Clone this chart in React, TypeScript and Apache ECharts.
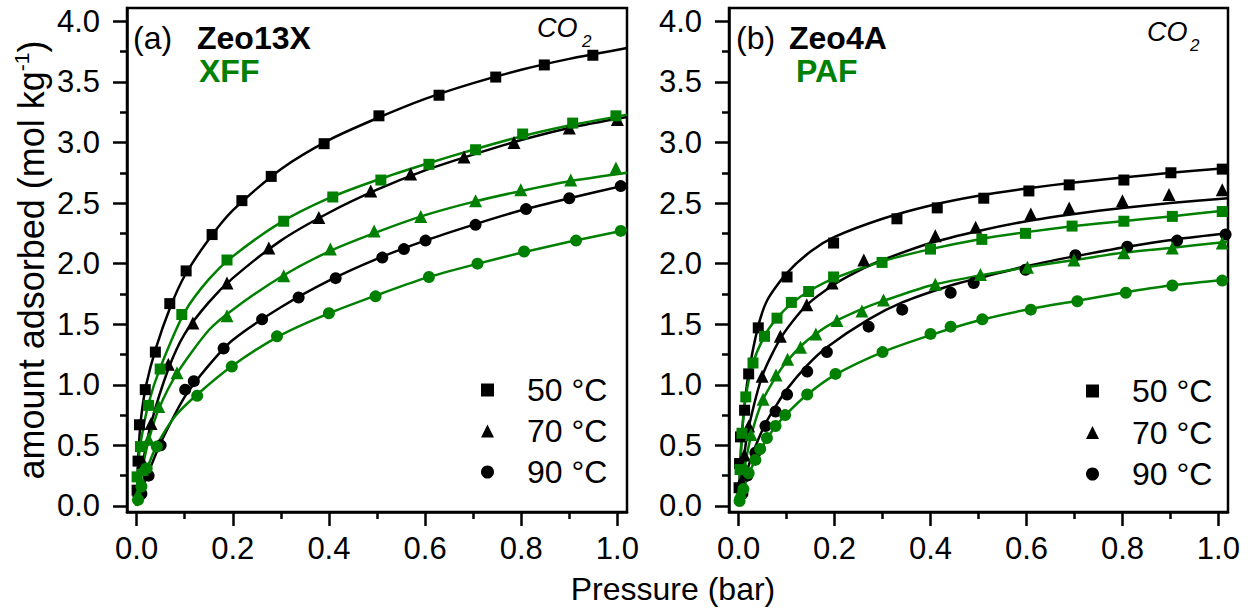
import React, { useEffect, useRef } from "react";
import * as echarts from "echarts";

// ---- tick values ----
const X_MAJOR = [0, 0.2, 0.4, 0.6, 0.8, 1.0];
const X_MINOR = [0.1, 0.3, 0.5, 0.7, 0.9];
const Y_MAJOR = [0, 0.5, 1.0, 1.5, 2.0, 2.5, 3.0, 3.5, 4.0];
const Y_MINOR = [0.25, 0.75, 1.25, 1.75, 2.25, 2.75, 3.25, 3.75];
const TEMPS = ["50 °C", "70 °C", "90 °C"];

// ---- panel (a): Zeo13X (black) / XFF (green) : [pressure bar, mol/kg] ----
const zeo13x50 = [[0.001, 0.13], [0.003, 0.37], [0.006, 0.67], [0.018, 0.96], [0.039, 1.27], [0.069, 1.67], [0.103, 1.94], [0.157, 2.24], [0.219, 2.52], [0.28, 2.72], [0.39, 2.99], [0.504, 3.22], [0.629, 3.39], [0.747, 3.54], [0.848, 3.64], [0.949, 3.72]];
const zeo13x70 = [[0.004, 0.13], [0.013, 0.36], [0.03, 0.68], [0.066, 1.17], [0.117, 1.51], [0.188, 1.84], [0.275, 2.13], [0.379, 2.38], [0.487, 2.6], [0.57, 2.74], [0.681, 2.88], [0.785, 3.0], [0.9, 3.12], [1.0, 3.19]];
const zeo13x90 = [[0.01, 0.1], [0.025, 0.25], [0.05, 0.5], [0.101, 0.96], [0.119, 1.03], [0.181, 1.3], [0.261, 1.54], [0.337, 1.72], [0.414, 1.88], [0.511, 2.05], [0.556, 2.12], [0.601, 2.19], [0.705, 2.32], [0.81, 2.45], [0.9, 2.54], [1.007, 2.64]];
const xff50 = [[0.001, 0.24], [0.008, 0.49], [0.025, 0.83], [0.049, 1.13], [0.094, 1.58], [0.188, 2.03], [0.306, 2.35], [0.408, 2.55], [0.508, 2.69], [0.608, 2.82], [0.705, 2.94], [0.803, 3.07], [0.907, 3.16], [0.997, 3.22]];
const xff70 = [[0.003, 0.1], [0.012, 0.3], [0.025, 0.55], [0.046, 0.82], [0.084, 1.1], [0.188, 1.57], [0.306, 1.9], [0.403, 2.12], [0.494, 2.27], [0.591, 2.39], [0.705, 2.52], [0.799, 2.61], [0.903, 2.69], [0.997, 2.79]];
const xff90 = [[0.003, 0.05], [0.01, 0.16], [0.021, 0.31], [0.042, 0.49], [0.126, 0.91], [0.198, 1.15], [0.292, 1.4], [0.4, 1.59], [0.497, 1.73], [0.608, 1.89], [0.709, 2.0], [0.806, 2.1], [0.914, 2.19], [1.007, 2.27]];

// fitted curves, panel (a)
const fitZeo13x50 = [[0, 0], [0.002, 0.25], [0.005, 0.52], [0.01, 0.75], [0.02, 1.0], [0.04, 1.3], [0.07, 1.64], [0.1, 1.9], [0.15, 2.2], [0.2, 2.44], [0.3, 2.78], [0.4, 3.02], [0.5, 3.2], [0.6, 3.36], [0.7, 3.49], [0.8, 3.6], [0.9, 3.69], [1.02, 3.78]];
const fitZeo13x70 = [[0, 0], [0.005, 0.16], [0.013, 0.36], [0.03, 0.68], [0.066, 1.13], [0.1, 1.42], [0.15, 1.68], [0.2, 1.88], [0.3, 2.19], [0.4, 2.42], [0.5, 2.61], [0.6, 2.77], [0.7, 2.9], [0.8, 3.02], [0.9, 3.12], [1.02, 3.21]];
const fitZeo13x90 = [[0, 0], [0.01, 0.12], [0.025, 0.28], [0.05, 0.52], [0.1, 0.9], [0.15, 1.16], [0.2, 1.37], [0.3, 1.64], [0.4, 1.86], [0.5, 2.04], [0.6, 2.19], [0.7, 2.32], [0.8, 2.44], [0.9, 2.54], [1.02, 2.65]];
const fitXff50 = [[0, 0], [0.001, 0.15], [0.004, 0.38], [0.01, 0.56], [0.025, 0.85], [0.05, 1.15], [0.1, 1.6], [0.15, 1.87], [0.2, 2.06], [0.3, 2.34], [0.4, 2.54], [0.5, 2.69], [0.6, 2.82], [0.7, 2.94], [0.8, 3.05], [0.9, 3.14], [1.02, 3.23]];
const fitXff70 = [[0, 0], [0.003, 0.1], [0.012, 0.31], [0.025, 0.54], [0.046, 0.8], [0.085, 1.1], [0.15, 1.45], [0.2, 1.62], [0.3, 1.89], [0.4, 2.1], [0.5, 2.26], [0.6, 2.4], [0.7, 2.51], [0.8, 2.6], [0.9, 2.68], [1.02, 2.75]];
const fitXff90 = [[0, 0], [0.003, 0.05], [0.01, 0.16], [0.021, 0.3], [0.042, 0.5], [0.08, 0.74], [0.126, 0.92], [0.2, 1.16], [0.3, 1.41], [0.4, 1.59], [0.5, 1.74], [0.6, 1.88], [0.7, 1.99], [0.8, 2.09], [0.9, 2.18], [1.02, 2.28]];

// ---- panel (b): Zeo4A (black) / PAF (green) ----
const zeo4a50 = [[0.001, 0.15], [0.002, 0.35], [0.004, 0.57], [0.0125, 0.79], [0.021, 1.09], [0.041, 1.47], [0.101, 1.89], [0.198, 2.17], [0.33, 2.37], [0.414, 2.46], [0.511, 2.54], [0.605, 2.6], [0.689, 2.65], [0.803, 2.69], [0.901, 2.75], [1.008, 2.78]];
const zeo4a70 = [[0.005, 0.2], [0.012, 0.42], [0.021, 0.66], [0.049, 1.07], [0.087, 1.4], [0.142, 1.66], [0.195, 1.84], [0.261, 2.03], [0.41, 2.23], [0.494, 2.3], [0.609, 2.41], [0.689, 2.46], [0.8, 2.52], [0.897, 2.57], [1.008, 2.61]];
const zeo4a90 = [[0.008, 0.1], [0.018, 0.25], [0.035, 0.44], [0.056, 0.66], [0.077, 0.78], [0.101, 0.92], [0.143, 1.11], [0.184, 1.27], [0.271, 1.48], [0.341, 1.62], [0.442, 1.76], [0.49, 1.84], [0.598, 1.95], [0.702, 2.07], [0.81, 2.14], [0.914, 2.19], [1.015, 2.24]];
const paf50 = [[0.003, 0.3], [0.007, 0.6], [0.015, 0.9], [0.03, 1.18], [0.054, 1.4], [0.08, 1.55], [0.11, 1.68], [0.146, 1.77], [0.198, 1.89], [0.299, 2.01], [0.4, 2.12], [0.507, 2.2], [0.598, 2.25], [0.695, 2.31], [0.803, 2.35], [0.904, 2.39], [1.008, 2.43]];
const paf70 = [[0.004, 0.12], [0.013, 0.32], [0.026, 0.59], [0.051, 0.88], [0.078, 1.08], [0.102, 1.21], [0.129, 1.31], [0.161, 1.42], [0.205, 1.53], [0.257, 1.61], [0.302, 1.7], [0.41, 1.83], [0.504, 1.91], [0.602, 1.97], [0.699, 2.03], [0.803, 2.09], [0.904, 2.13], [1.008, 2.17]];
const paf90 = [[0.002, 0.04], [0.01, 0.14], [0.021, 0.27], [0.035, 0.38], [0.045, 0.47], [0.059, 0.56], [0.077, 0.66], [0.097, 0.75], [0.143, 0.92], [0.202, 1.09], [0.3, 1.27], [0.4, 1.42], [0.442, 1.48], [0.508, 1.54], [0.609, 1.62], [0.706, 1.69], [0.807, 1.76], [0.904, 1.82], [1.008, 1.86]];

// fitted curves, panel (b)
const fitZeo4a50 = [[0, 0], [0.002, 0.2], [0.005, 0.46], [0.01, 0.74], [0.02, 1.07], [0.04, 1.47], [0.06, 1.7], [0.1, 1.92], [0.15, 2.1], [0.2, 2.22], [0.3, 2.37], [0.4, 2.48], [0.5, 2.56], [0.6, 2.62], [0.7, 2.67], [0.8, 2.71], [0.9, 2.75], [1.02, 2.79]];
const fitZeo4a70 = [[0, 0], [0.005, 0.2], [0.01, 0.37], [0.02, 0.63], [0.05, 1.08], [0.09, 1.4], [0.14, 1.65], [0.2, 1.83], [0.26, 1.96], [0.3, 2.03], [0.4, 2.17], [0.5, 2.27], [0.6, 2.35], [0.7, 2.41], [0.8, 2.46], [0.9, 2.5], [1.02, 2.54]];
const fitZeo4a90 = [[0, 0], [0.01, 0.18], [0.02, 0.32], [0.035, 0.49], [0.056, 0.68], [0.077, 0.82], [0.1, 0.96], [0.143, 1.16], [0.184, 1.31], [0.271, 1.54], [0.341, 1.68], [0.442, 1.82], [0.5, 1.88], [0.6, 1.98], [0.7, 2.06], [0.81, 2.14], [0.91, 2.2], [1.02, 2.25]];
const fitPaf50 = [[0, 0], [0.003, 0.3], [0.007, 0.6], [0.015, 0.9], [0.03, 1.18], [0.055, 1.41], [0.08, 1.55], [0.11, 1.67], [0.15, 1.78], [0.2, 1.88], [0.3, 2.02], [0.4, 2.12], [0.5, 2.2], [0.6, 2.26], [0.7, 2.31], [0.8, 2.35], [0.9, 2.39], [1.02, 2.44]];
const fitPaf70 = [[0, 0], [0.004, 0.12], [0.013, 0.33], [0.026, 0.58], [0.05, 0.87], [0.08, 1.08], [0.1, 1.19], [0.13, 1.32], [0.16, 1.42], [0.2, 1.52], [0.26, 1.63], [0.3, 1.69], [0.4, 1.82], [0.5, 1.9], [0.6, 1.97], [0.7, 2.03], [0.8, 2.09], [0.9, 2.13], [1.02, 2.18]];
const fitPaf90 = [[0, 0], [0.002, 0.04], [0.01, 0.14], [0.021, 0.26], [0.035, 0.38], [0.06, 0.56], [0.08, 0.67], [0.1, 0.76], [0.14, 0.91], [0.2, 1.08], [0.3, 1.27], [0.4, 1.41], [0.5, 1.53], [0.6, 1.62], [0.7, 1.69], [0.8, 1.76], [0.9, 1.82], [1.02, 1.87]];

const BLACK = "#000000";
const GREEN = "#008000";
const FONT = "'Liberation Sans', Arial, Helvetica, sans-serif";
const SYMS = ["rect", "triangle", "circle"];
const SYM_SIZE = [11, 13, 12];

function xAxes(grid: number) {
  const common = {
    type: "value",
    gridIndex: grid,
    min: -0.02,
    max: 1.02,
    position: "bottom",
    splitLine: { show: false },
  };
  return [
    {
      ...common,
      axisLine: { show: true, onZero: false, lineStyle: { color: BLACK, width: 2.5 } },
      axisTick: { show: true, length: 14, lineStyle: { color: BLACK, width: 2.5 }, customValues: X_MAJOR },
      axisLabel: {
        customValues: X_MAJOR,
        formatter: (v: number) => v.toFixed(1),
        fontSize: 31,
        fontFamily: FONT,
        color: BLACK,
        margin: 21,
      },
    },
    {
      ...common,
      axisLine: { show: false, onZero: false },
      axisTick: { show: true, length: 7, lineStyle: { color: BLACK, width: 2.5 }, customValues: X_MINOR },
      axisLabel: { show: false },
    },
  ];
}

function yAxes(grid: number, withName: boolean) {
  const common = {
    type: "value",
    gridIndex: grid,
    min: -0.05,
    max: 4.11,
    position: "left",
    splitLine: { show: false },
  };
  const major: any = {
    ...common,
    axisLine: { show: true, onZero: false, lineStyle: { color: BLACK, width: 2.5 } },
    axisTick: { show: true, length: 14, lineStyle: { color: BLACK, width: 2.5 }, customValues: Y_MAJOR },
    axisLabel: {
      customValues: Y_MAJOR,
      formatter: (v: number) => v.toFixed(1),
      fontSize: 31,
      fontFamily: FONT,
      color: BLACK,
      margin: 27,
    },
  };
  if (withName) {
    major.name = "amount adsorbed (mol kg{sup|-1})";
    major.nameLocation = "middle";
    major.nameRotate = 90;
    major.nameGap = 76;
    major.nameTextStyle = {
      fontSize: 36,
      fontFamily: FONT,
      color: BLACK,
      rich: { sup: { fontSize: 21, fontFamily: FONT, color: BLACK, padding: [0, 0, 19, 0] } },
    };
  }
  return [
    major,
    {
      ...common,
      axisLine: { show: false, onZero: false },
      axisTick: { show: true, length: 7, lineStyle: { color: BLACK, width: 2.5 }, customValues: Y_MINOR },
      axisLabel: { show: false },
    },
  ];
}

function fitSeries(data: number[][], color: string, axis: number) {
  return {
    type: "line",
    name: "fit",
    xAxisIndex: axis,
    yAxisIndex: axis,
    data,
    smooth: 0.25,
    symbol: "none",
    lineStyle: { color, width: 2.5 },
    silent: true,
    z: 2,
  };
}

function markerSeries(data: number[][], idx: number, color: string, axis: number) {
  return {
    type: "scatter",
    name: TEMPS[idx],
    xAxisIndex: axis,
    yAxisIndex: axis,
    data,
    symbol: SYMS[idx],
    symbolSize: SYM_SIZE[idx],
    itemStyle: { color, opacity: 1 },
    z: 3,
  };
}

function legendFor(left: number, top: number, gap: number) {
  return {
    orient: "vertical",
    left,
    top,
    padding: 0,
    itemWidth: 13,
    itemHeight: 13,
    itemGap: gap,
    selectedMode: false,
    textStyle: { fontSize: 32, fontFamily: FONT, color: BLACK, padding: [0, 0, 0, 28] },
    data: TEMPS.map((t, i) => ({ name: t, icon: SYMS[i], itemStyle: { color: BLACK } })),
  };
}

function txt(x: number, y: number, text: string, opts: any = {}) {
  return {
    type: "text",
    x,
    y,
    silent: true,
    style: {
      text,
      fill: opts.fill || BLACK,
      font: `${opts.style || "normal"} ${opts.weight || "normal"} ${opts.size || 32}px ${FONT}`,
      verticalAlign: "middle",
      align: opts.align || "left",
    },
  };
}

export default function App() {
  const ref = useRef<HTMLDivElement>(null);
  useEffect(() => {
    if (!ref.current) return;
    const chart = echarts.init(ref.current, null, { renderer: "svg" });
    const option: any = {
      animation: false,
      backgroundColor: "#ffffff",
      grid: [
        { left: 127, top: 8, width: 500, height: 504, show: true, borderColor: BLACK, borderWidth: 2.5, containLabel: false },
        { left: 729, top: 8, width: 499, height: 504, show: true, borderColor: BLACK, borderWidth: 2.5, containLabel: false },
      ],
      xAxis: [...xAxes(0), ...xAxes(1)],
      yAxis: [...yAxes(0, true), ...yAxes(1, false)],
      legend: [legendFor(481, 374, 9), legendFor(1086, 375, 9.5)],
      series: [
        fitSeries(fitZeo13x50, BLACK, 0),
        fitSeries(fitZeo13x70, BLACK, 0),
        fitSeries(fitZeo13x90, BLACK, 0),
        fitSeries(fitXff50, GREEN, 0),
        fitSeries(fitXff70, GREEN, 0),
        fitSeries(fitXff90, GREEN, 0),
        markerSeries(zeo13x50, 0, BLACK, 0),
        markerSeries(zeo13x70, 1, BLACK, 0),
        markerSeries(zeo13x90, 2, BLACK, 0),
        markerSeries(xff50, 0, GREEN, 0),
        markerSeries(xff70, 1, GREEN, 0),
        markerSeries(xff90, 2, GREEN, 0),
        fitSeries(fitZeo4a50, BLACK, 2),
        fitSeries(fitZeo4a70, BLACK, 2),
        fitSeries(fitZeo4a90, BLACK, 2),
        fitSeries(fitPaf50, GREEN, 2),
        fitSeries(fitPaf70, GREEN, 2),
        fitSeries(fitPaf90, GREEN, 2),
        markerSeries(zeo4a50, 0, BLACK, 2),
        markerSeries(zeo4a70, 1, BLACK, 2),
        markerSeries(zeo4a90, 2, BLACK, 2),
        markerSeries(paf50, 0, GREEN, 2),
        markerSeries(paf70, 1, GREEN, 2),
        markerSeries(paf90, 2, GREEN, 2),
      ],
      graphic: [
        txt(133, 38, "(a)"),
        txt(197, 38, "Zeo13X", { weight: "bold" }),
        txt(199, 71, "XFF", { weight: "bold", fill: GREEN }),
        txt(537, 28, "CO", { style: "italic", size: 27 }),
        txt(582, 41, "2", { style: "italic", size: 17 }),
        txt(736, 38, "(b)"),
        txt(789, 38, "Zeo4A", { weight: "bold" }),
        txt(796, 71, "PAF", { weight: "bold", fill: GREEN }),
        txt(1147, 32, "CO", { style: "italic", size: 27 }),
        txt(1190, 45, "2", { style: "italic", size: 17 }),
        txt(673, 589, "Pressure (bar)", { size: 32, align: "center" }),
      ],
    };
    chart.setOption(option);
    return () => chart.dispose();
  }, []);
  return (
    <div
      ref={ref}
      style={{ position: "fixed", left: 0, top: 0, width: 1255, height: 610, background: "#fff" }}
    />
  );
}
